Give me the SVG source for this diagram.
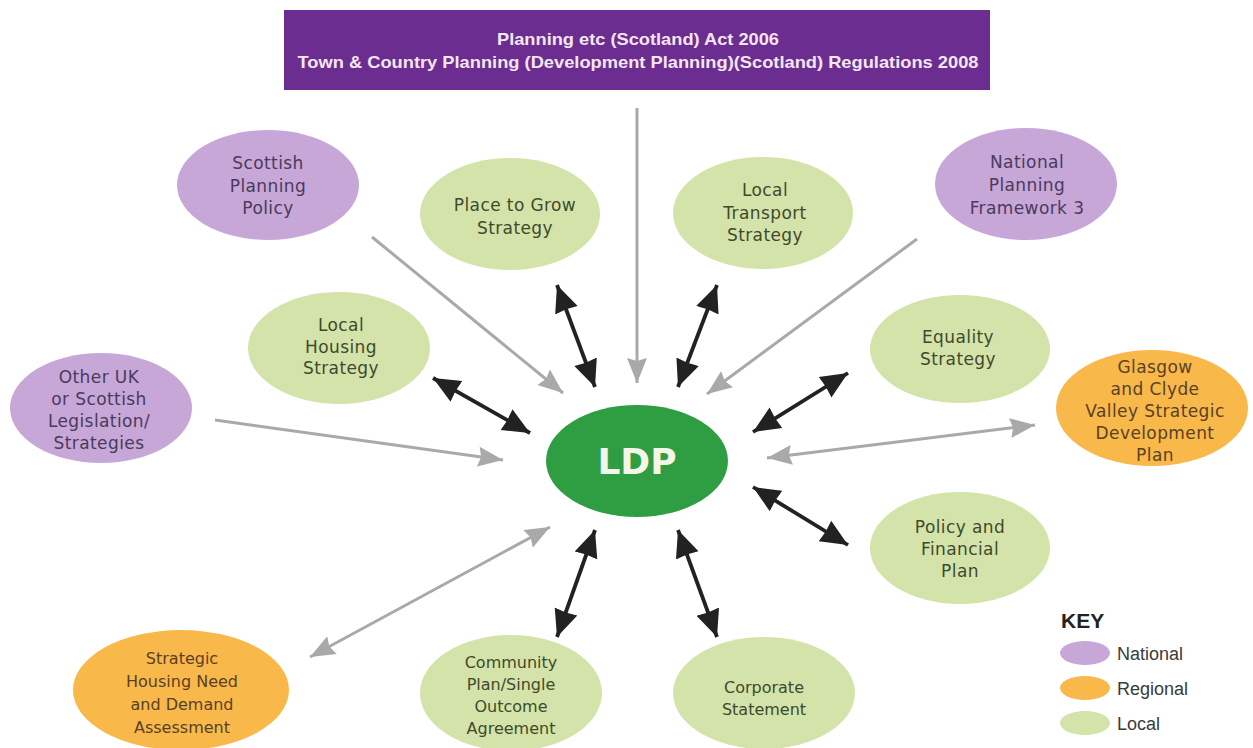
<svg xmlns="http://www.w3.org/2000/svg" width="1253" height="748" viewBox="0 0 1253 748">
<style>
.nat{fill:#c6a7d7}
.reg{fill:#f8b84a}
.loc{fill:#d3e3a9}
.t{font-family:"DejaVu Sans","Liberation Sans",sans-serif;font-size:17px;text-anchor:middle;letter-spacing:0.4px}
.tb{font-family:"DejaVu Sans","Liberation Sans",sans-serif;font-size:16px;text-anchor:middle}
.tn{fill:#4a3a5c}
.tl{fill:#3f4a2d}
.tr{fill:#5a4124}
.gl{stroke:#a9a9a9;stroke-width:3;fill:none}
.bl{stroke:#222;stroke-width:3.8;fill:none}
.key{font-family:"Liberation Sans",Arial,sans-serif;font-size:18px;fill:#3a3a3a}
.bt{font-family:"Liberation Sans",Arial,sans-serif;font-weight:bold;fill:#f5e6f5;text-anchor:middle}
</style>
<defs>
<marker id="ga" markerUnits="userSpaceOnUse" markerWidth="25" markerHeight="22" viewBox="0 0 25 22" refX="25" refY="11" orient="auto-start-reverse">
<path d="M0,1 L25,11 L0,21 L3,11 z" fill="#a9a9a9"/>
</marker>
<marker id="ba" markerUnits="userSpaceOnUse" markerWidth="27" markerHeight="26" viewBox="0 0 27 26" refX="27" refY="13" orient="auto-start-reverse">
<path d="M0,1 L27,13 L0,25 L1,13 z" fill="#222"/>
</marker>
</defs>
<rect width="1253" height="748" fill="#ffffff"/>

<g id="banner">
<rect x="284" y="10" width="706" height="80" fill="#6b2d8f"/>
<text class="bt" x="638" y="45" font-size="17" textLength="282" lengthAdjust="spacingAndGlyphs">Planning etc (Scotland) Act 2006</text>
<text class="bt" x="638" y="68" font-size="17" textLength="681" lengthAdjust="spacingAndGlyphs">Town &amp; Country Planning (Development Planning)(Scotland) Regulations 2008</text>
</g>

<g id="connectors">
<line class="gl" x1="637" y1="108" x2="637" y2="383" marker-end="url(#ga)"/>
<line class="gl" x1="372" y1="237" x2="563" y2="393" marker-end="url(#ga)"/>
<line class="gl" x1="917" y1="239" x2="707" y2="394" marker-end="url(#ga)"/>
<line class="gl" x1="215" y1="420" x2="503" y2="460" marker-end="url(#ga)"/>
<line class="gl" x1="767" y1="458" x2="1035" y2="425" marker-start="url(#ga)" marker-end="url(#ga)"/>
<line class="gl" x1="310" y1="657" x2="550" y2="527" marker-start="url(#ga)" marker-end="url(#ga)"/>
<line class="bl" x1="557" y1="285" x2="595" y2="387" marker-start="url(#ba)" marker-end="url(#ba)"/>
<line class="bl" x1="717" y1="285" x2="678" y2="387" marker-start="url(#ba)" marker-end="url(#ba)"/>
<line class="bl" x1="433" y1="378" x2="530" y2="433" marker-start="url(#ba)" marker-end="url(#ba)"/>
<line class="bl" x1="848" y1="373" x2="753" y2="432" marker-start="url(#ba)" marker-end="url(#ba)"/>
<line class="bl" x1="753" y1="487" x2="848" y2="545" marker-start="url(#ba)" marker-end="url(#ba)"/>
<line class="bl" x1="595" y1="530" x2="557" y2="637" marker-start="url(#ba)" marker-end="url(#ba)"/>
<line class="bl" x1="678" y1="530" x2="717" y2="637" marker-start="url(#ba)" marker-end="url(#ba)"/>
</g>

<g id="ldp">
<ellipse cx="637" cy="461" rx="91" ry="56" fill="#2f9e42"/>
<text x="637" y="474" font-family="DejaVu Sans,Verdana,sans-serif" font-weight="bold" font-size="36" fill="#f2f7ea" text-anchor="middle">LDP</text>
</g>

<g id="scottish-planning-policy">
<ellipse class="nat" cx="268" cy="185" rx="91" ry="55"/>
<text class="t tn" x="268" y="169">Scottish</text>
<text class="t tn" x="268" y="192">Planning</text>
<text class="t tn" x="268" y="214">Policy</text>
</g>

<g id="local-housing-strategy">
<ellipse class="loc" cx="339" cy="348" rx="91" ry="56"/>
<text class="t tl" x="341" y="331">Local</text>
<text class="t tl" x="341" y="353">Housing</text>
<text class="t tl" x="341" y="374">Strategy</text>
</g>

<g id="other-uk">
<ellipse class="nat" cx="101" cy="408" rx="91" ry="55"/>
<text class="t tn" x="99" y="383">Other UK</text>
<text class="t tn" x="99" y="405">or Scottish</text>
<text class="t tn" x="99" y="427">Legislation/</text>
<text class="t tn" x="99" y="449">Strategies</text>
</g>

<g id="place-to-grow">
<ellipse class="loc" cx="510" cy="214" rx="90" ry="56"/>
<text class="t tl" x="515" y="211">Place to Grow</text>
<text class="t tl" x="515" y="234">Strategy</text>
</g>

<g id="local-transport">
<ellipse class="loc" cx="763" cy="213" rx="90" ry="56"/>
<text class="t tl" x="765" y="196">Local</text>
<text class="t tl" x="765" y="219">Transport</text>
<text class="t tl" x="765" y="241">Strategy</text>
</g>

<g id="npf3">
<ellipse class="nat" cx="1026" cy="184" rx="91" ry="56"/>
<text class="t tn" x="1027" y="168">National</text>
<text class="t tn" x="1027" y="191">Planning</text>
<text class="t tn" x="1027" y="214">Framework 3</text>
</g>

<g id="equality">
<ellipse class="loc" cx="960" cy="349" rx="90" ry="54"/>
<text class="t tl" x="958" y="343">Equality</text>
<text class="t tl" x="958" y="365">Strategy</text>
</g>

<g id="glasgow-clyde">
<ellipse class="reg" cx="1152" cy="408" rx="96" ry="58"/>
<text class="t tr" x="1155" y="373">Glasgow</text>
<text class="t tr" x="1155" y="395">and Clyde</text>
<text class="t tr" x="1155" y="417">Valley Strategic</text>
<text class="t tr" x="1155" y="439">Development</text>
<text class="t tr" x="1155" y="461">Plan</text>
</g>

<g id="policy-financial">
<ellipse class="loc" cx="960" cy="548" rx="90" ry="56"/>
<text class="t tl" x="960" y="533">Policy and</text>
<text class="t tl" x="960" y="555">Financial</text>
<text class="t tl" x="960" y="577">Plan</text>
</g>

<g id="shnda">
<ellipse class="reg" cx="181" cy="690" rx="108" ry="60"/>
<text class="tb tr" x="182" y="664">Strategic</text>
<text class="tb tr" x="182" y="687">Housing Need</text>
<text class="tb tr" x="182" y="710">and Demand</text>
<text class="tb tr" x="182" y="733">Assessment</text>
</g>

<g id="community-plan">
<ellipse class="loc" cx="511" cy="693" rx="91" ry="58"/>
<text class="tb tl" x="511" y="668">Community</text>
<text class="tb tl" x="511" y="690">Plan/Single</text>
<text class="tb tl" x="511" y="712">Outcome</text>
<text class="tb tl" x="511" y="734">Agreement</text>
</g>

<g id="corporate-statement">
<ellipse class="loc" cx="764" cy="693" rx="91" ry="56"/>
<text class="tb tl" x="764" y="693">Corporate</text>
<text class="tb tl" x="764" y="715">Statement</text>
</g>

<g id="key">
<text x="1061" y="628" font-family="Liberation Sans,Arial,sans-serif" font-weight="bold" font-size="21" fill="#222">KEY</text>
<ellipse class="nat" cx="1085" cy="653" rx="25" ry="12"/>
<text class="key" x="1117" y="660">National</text>
<ellipse class="reg" cx="1085" cy="688" rx="25" ry="12"/>
<text class="key" x="1117" y="695">Regional</text>
<ellipse class="loc" cx="1085" cy="723" rx="25" ry="12"/>
<text class="key" x="1117" y="730">Local</text>
</g>
</svg>
